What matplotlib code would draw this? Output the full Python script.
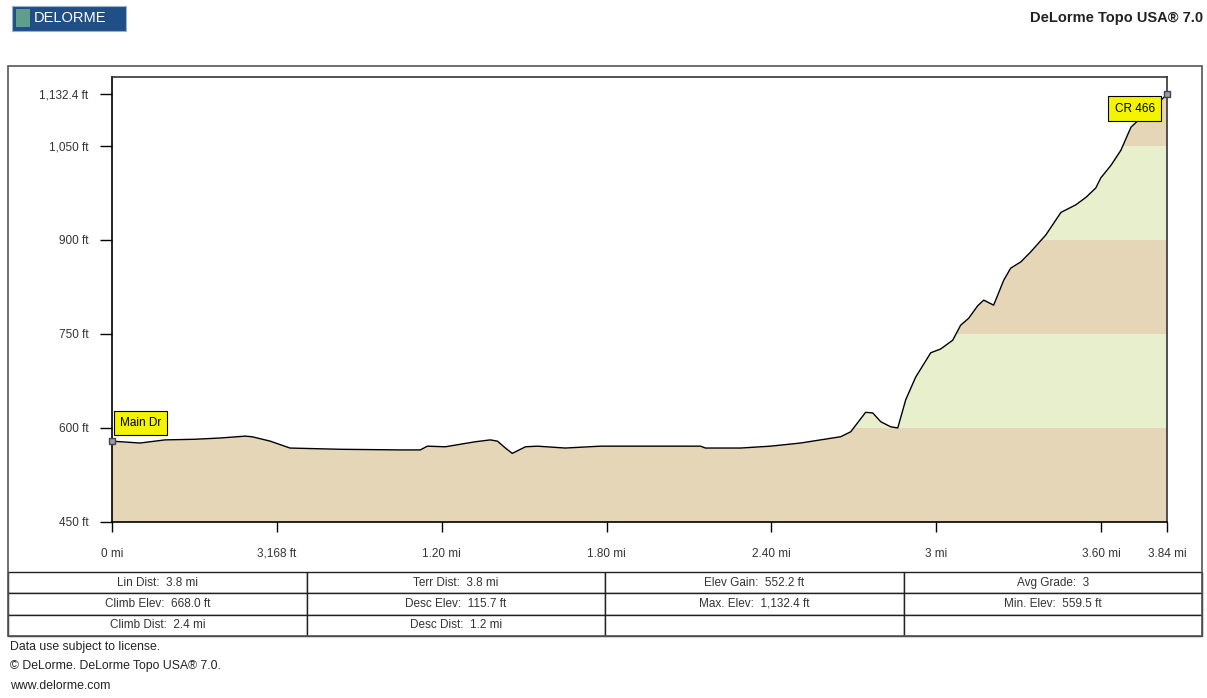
import numpy as np
import matplotlib.pyplot as plt
from matplotlib.patches import Rectangle

plt.rcParams['font.family'] = ['Liberation Sans', 'DejaVu Sans']

# profile (distance in miles, elevation in ft)
dist = [0.000, 0.102, 0.193, 0.302, 0.393, 0.485, 0.510, 0.576, 0.648, 0.831,
        1.049, 1.122, 1.148, 1.213, 1.322, 1.377, 1.403, 1.432, 1.457, 1.505,
        1.548, 1.650, 1.778, 2.142, 2.160, 2.288, 2.397, 2.506, 2.579, 2.652,
        2.689, 2.743, 2.769, 2.798, 2.834, 2.860, 2.889, 2.925, 2.980, 3.016,
        3.060, 3.089, 3.118, 3.151, 3.173, 3.209, 3.246, 3.271, 3.308, 3.344,
        3.399, 3.454, 3.508, 3.545, 3.581, 3.599, 3.636, 3.672, 3.709, 3.763,
        3.818, 3.840]
elev = [579, 576, 581, 582, 584, 587, 586, 579, 568, 566,
        565, 565, 571, 570, 578, 581, 579, 568, 559.5, 570,
        571, 568, 571, 571, 568, 568, 571, 576, 581, 586,
        594, 625, 624, 610, 602, 600, 645, 681, 720, 726,
        740, 764, 775, 795, 804, 796, 836, 855, 865, 881,
        908, 944, 956, 968, 983, 999, 1019, 1043, 1080, 1102,
        1123, 1132.4]

ytick_vals = [450, 600, 750, 900, 1050, 1132.4]
ytick_labels = ['450 ft', '600 ft', '750 ft', '900 ft', '1,050 ft', '1,132.4 ft']
xtick_vals = [0, 0.6, 1.2, 1.8, 2.4, 3.0, 3.6, 3.84]
xtick_labels = ['0 mi', '3,168 ft', '1.20 mi', '1.80 mi', '2.40 mi', '3 mi', '3.60 mi', '3.84 mi']

band_edges = [450, 600, 750, 900, 1050, 1200]
band_colors = ['#e6d6b8', '#e7efcc', '#e6d6b8', '#e7efcc', '#e6d6b8']

stats = [['Lin Dist:  3.8 mi', 'Terr Dist:  3.8 mi', 'Elev Gain:  552.2 ft', 'Avg Grade:  3'],
         ['Climb Elev:  668.0 ft', 'Desc Elev:  115.7 ft', 'Max. Elev:  1,132.4 ft', 'Min. Elev:  559.5 ft'],
         ['Climb Dist:  2.4 mi', 'Desc Dist:  1.2 mi', '', '']]

W, H = 1207, 698
fig = plt.figure(figsize=(W / 100, H / 100), dpi=100)

def fx(px):
    return px / W

def fy(py):
    return 1 - py / H

# outer frame
fig.patches.append(Rectangle((fx(8), fy(636)), fx(1202) - fx(8), fy(66) - fy(636),
                             transform=fig.transFigure, fill=False, ec='#555555', lw=1.2))

ax = fig.add_axes([fx(112), fy(522), fx(1167) - fx(112), fy(77) - fy(522)])
ax.set_xlim(0, 3.84)
ax.set_ylim(450, 1160)

for lo, hi, c in zip(band_edges[:-1], band_edges[1:], band_colors):
    ax.axhspan(lo, hi, color=c, lw=0, zorder=0)
ax.fill_between(dist, elev, 1200, color='white', lw=0, zorder=1)
ax.plot(dist, elev, color='black', lw=1.0, zorder=2)

ax.plot([dist[0], dist[-1]], [elev[0], elev[-1]], 's', ms=5, mfc='#9a9aaa', mec='#444444', zorder=4, clip_on=False)

ax.text(0.03, 598, 'Main Dr', fontsize=8.5, ha='left', va='bottom', zorder=5,
        bbox=dict(boxstyle='square,pad=0.5', fc='#f4f400', ec='black', lw=0.8))
ax.text(3.795, 1119, 'CR 466', fontsize=8.5, ha='right', va='top', zorder=5,
        bbox=dict(boxstyle='square,pad=0.55', fc='#f4f400', ec='black', lw=0.8))

ax.set_yticks(ytick_vals)
ax.set_yticklabels(ytick_labels)
ax.set_xticks(xtick_vals)
ax.set_xticklabels(xtick_labels)
ax.tick_params(axis='y', length=8.6, width=1, pad=8.5, labelsize=8.5, labelcolor='#333333')
ax.tick_params(axis='x', length=7.2, width=1, pad=18, labelsize=8.5, labelcolor='#333333')
for lbl in ax.get_xticklabels():
    lbl.set_verticalalignment('baseline')
for s in ['left', 'bottom']:
    ax.spines[s].set_linewidth(1.2)
for s in ['top', 'right']:
    ax.spines[s].set_color('#333333')
    ax.spines[s].set_linewidth(1.2)

# stats table
tax = fig.add_axes([fx(8), fy(636), fx(1202) - fx(8), fy(572) - fy(636)])
tax.axis('off')
tab = tax.table(cellText=stats, cellLoc='center', bbox=[0, 0, 1, 1])
tab.auto_set_font_size(False)
for (r, c), cell in tab.get_celld().items():
    cell.set_linewidth(1.0)
    cell.set_edgecolor('#222222')
    cell.get_text().set_fontsize(8.5)
    cell.get_text().set_color('#333333')

# header
fig.patches.append(Rectangle((fx(12), fy(31)), fx(126) - fx(12), fy(6) - fy(31),
                             transform=fig.transFigure, fc='#1f4f86', ec='#9ab0c8', lw=0.8))
fig.patches.append(Rectangle((fx(16), fy(27)), fx(30) - fx(16), fy(9) - fy(27),
                             transform=fig.transFigure, fc='#5f9e8a', ec='none'))
fig.text(fx(34), fy(18.5), 'DELORME', fontsize=10.5, color='white', va='center', ha='left')
fig.text(fx(1203), fy(18), 'DeLorme Topo USA® 7.0', fontsize=10.5, fontweight='bold',
         color='#222222', va='center', ha='right')

# footer
fig.text(fx(10), fy(647), 'Data use subject to license.', fontsize=8.8, color='#222222', va='center')
fig.text(fx(10), fy(666), '© DeLorme. DeLorme Topo USA® 7.0.', fontsize=8.8, color='#222222', va='center')
fig.text(fx(10), fy(686), 'www.delorme.com', fontsize=8.8, color='#222222', va='center')

fig.savefig('out.png', dpi=100)
